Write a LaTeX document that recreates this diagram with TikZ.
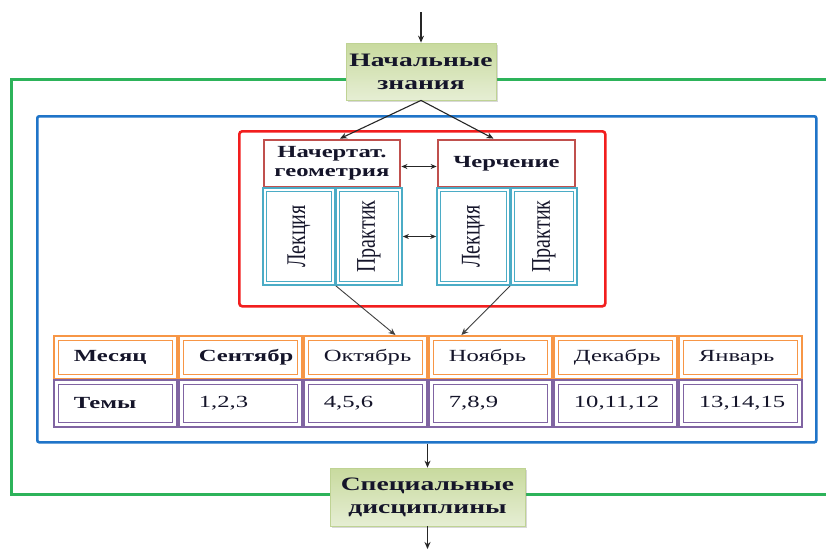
\documentclass[tikz,border=0pt]{standalone}
\usepackage{fontspec}
\setmainfont{Liberation Serif}[FakeStretch=1.45]
\newfontfamily\plainf{Liberation Serif}
\usetikzlibrary{arrows.meta,shadows,calc}
\definecolor{cGreen}{HTML}{2DB35A}
\definecolor{cBlue}{HTML}{1F74C8}
\definecolor{cRed}{HTML}{F21E1E}
\definecolor{cHdr}{HTML}{C0504D}
\definecolor{cCyan}{HTML}{4BACC6}
\definecolor{cOr}{HTML}{F79646}
\definecolor{cPur}{HTML}{8064A2}
\definecolor{cTxt}{HTML}{15152A}
\definecolor{gTop}{HTML}{C8DA9E}
\definecolor{gBot}{HTML}{E6EED4}
\definecolor{gBrd}{HTML}{BFD394}
\newcommand\rotlabel[1]{\scalebox{1}[1.35]{#1}}
\begin{document}
\begin{tikzpicture}[x=1pt,y=-1pt,
  frame/.style={draw, line width=2.6pt, anchor=north west, inner sep=0pt},
  gbox/.style={draw=gBrd, line width=0.8pt, top color=gTop, bottom color=gBot,
    drop shadow={opacity=0.3,shadow xshift=2pt,shadow yshift=-2pt},
    font=\bfseries\fontsize{19}{23}\selectfont, align=center, inner sep=0pt, text=cTxt},
  hdr/.style={draw=cHdr, line width=2.8pt, fill=white, font=\bfseries\fontsize{17}{19}\selectfont,
    align=center, inner sep=0pt, minimum height=47pt, text=cTxt},
  sub/.style={draw=cCyan, line width=1.7pt, inner sep=0pt, minimum height=97pt},
  subtxt/.style={rotate=90, font=\plainf\fontsize{20}{22}\selectfont, text=cTxt, inner sep=0pt},
  cell/.style={line width=1.8pt, anchor=north west, inner sep=0pt, inner xsep=20pt, text width=83pt,
    minimum width=123pt, align=left, font=\fontsize{17}{19}\selectfont, text=cTxt},
  orow/.style={cell, draw=cOr, minimum height=43pt},
  prow/.style={cell, draw=cPur, minimum height=47pt},
  arr/.style={draw=black!85, line width=1.1pt, -{Stealth[length=7pt,width=6pt]}},
  darr/.style={draw=black!85, line width=1pt, {Stealth[length=6pt,width=5pt]}-{Stealth[length=6pt,width=5pt]}},
  ln/.style={draw=black!75, line width=0.9pt, -{Stealth[length=7pt,width=6pt]}},
]
\clip (0,0) rectangle (826,550);
\fill[white] (0,0) rectangle (826,550);
% frames
\node[frame, draw=cGreen, minimum width=840pt, minimum height=415pt] (grn) at (10,78) {};
\node[frame, draw=cBlue, minimum width=779pt, minimum height=326pt, rounded corners=2pt] (blu) at (36,115) {};
\node[frame, draw=cRed, minimum width=366pt, minimum height=175pt, rounded corners=3pt] (red) at (238,130) {};
% top and bottom boxes
\node[gbox, minimum width=150pt, minimum height=57pt] (nach) at (421,71.5) {Начальные\\знания};
\node[gbox, minimum width=195pt, minimum height=58pt] (spec) at (427.5,497) {Специальные\\дисциплины};
% headers
\node[hdr, minimum width=136pt] (hdrL) at (332,163.5) {Начертат.\\геометрия};
\node[hdr, minimum width=137pt] (hdrR) at (506.5,163.5) {Черчение};
% sub boxes
\node[sub, minimum width=72pt] (lekL) at (299,236.5) {};
\node[sub, minimum width=66pt] (praL) at (369,236.5) {};
\node[sub, minimum width=73pt] (lekR) at (473.5,236.5) {};
\node[sub, minimum width=66pt] (praR) at (544,236.5) {};
\foreach \n in {lekL,praL,lekR,praR}
  \draw[cCyan, line width=1.1pt] ([shift={(4.5,4.5)}]\n.north west) rectangle ([shift={(-4.5,-4.5)}]\n.south east);
\node[subtxt] (tlekL) at (lekL) {\rotlabel{Лекция}};
\node[subtxt] (tpraL) at (praL) {\rotlabel{Практик}};
\node[subtxt] (tlekR) at (lekR) {\rotlabel{Лекция}};
\node[subtxt] (tpraR) at (praR) {\rotlabel{Практик}};
% table
\node[orow, font=\bfseries\fontsize{17}{19}\selectfont] (m0) at (53,335) {Месяц};
\node[orow, font=\bfseries\fontsize{17}{19}\selectfont] (m1) at (178,335) {Сентябр};
\node[orow] (m2) at (303,335) {Октябрь};
\node[orow] (m3) at (428,335) {Ноябрь};
\node[orow] (m4) at (553,335) {Декабрь};
\node[orow] (m5) at (678,335) {Январь};
\node[prow, font=\bfseries\fontsize{17}{19}\selectfont] (t0) at (53,379) {Темы};
\node[prow] (t1) at (178,379) {1,2,3};
\node[prow] (t2) at (303,379) {4,5,6};
\node[prow] (t3) at (428,379) {7,8,9};
\node[prow] (t4) at (553,379) {10,11,12};
\node[prow] (t5) at (678,379) {13,14,15};
\foreach \n in {m0,m1,m2,m3,m4,m5}
  \draw[cOr, line width=0.9pt] ([shift={(5,5)}]\n.north west) rectangle ([shift={(-5,-5)}]\n.south east);
\foreach \n in {t0,t1,t2,t3,t4,t5}
  \draw[cPur, line width=0.9pt] ([shift={(5,5)}]\n.north west) rectangle ([shift={(-5,-5)}]\n.south east);
% connectors
\coordinate (tin) at (421,12);
\coordinate (bout) at (427.5,549);
\draw[arr] (tin) -- (nach.north);
\draw[arr] (nach.south) -- ([xshift=8pt]hdrL.north);
\draw[arr] (nach.south) -- ([xshift=-13pt]hdrR.north);
\draw[darr] ([yshift=-3pt]hdrL.east) -- ([yshift=-3pt]hdrR.west);
\draw[darr] (praL.east) -- (lekR.west);
\draw[ln] (lekL.south east) -- ([xshift=30pt]m2.north);
\draw[ln] (praR.south west) -- ([xshift=-29pt]m3.north);
\draw[arr] (spec.north |- blu.south) -- (spec.north);
\draw[arr] (spec.south) -- (bout);
\end{tikzpicture}
\end{document}
